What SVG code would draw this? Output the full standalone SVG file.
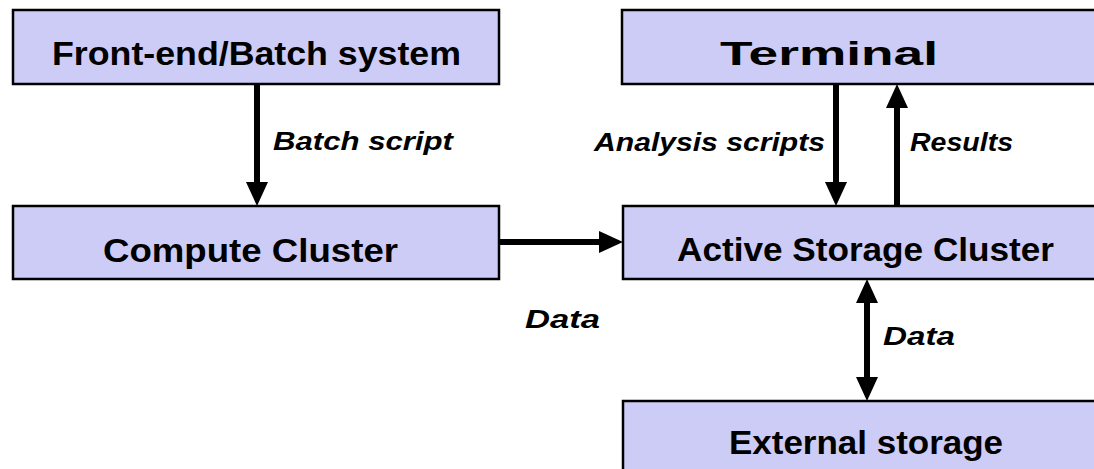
<svg xmlns="http://www.w3.org/2000/svg" width="1094" height="469" viewBox="0 0 1094 469">
  <style>
    .box { fill: #CCCCF6; stroke: #000; stroke-width: 2.5; }
    .nt { font-family: "Liberation Sans", Arial, sans-serif; font-weight: bold; font-size: 33px; fill: #000; }
    .lt { font-family: "Liberation Sans", Arial, sans-serif; font-weight: bold; font-style: italic; font-size: 26px; fill: #000; }
    .conn { stroke: #000; stroke-width: 6; fill: none; }
  </style>
  <defs>
    <marker id="ah" viewBox="0 0 24 22" markerWidth="24" markerHeight="22" refX="0" refY="11" markerUnits="userSpaceOnUse" orient="auto-start-reverse">
      <path d="M0,0 L24,11 L0,22 z" fill="#000"/>
    </marker>
  </defs>
  <rect width="1094" height="469" fill="#fff"/>
  <g id="connectors">
    <line class="conn" x1="500" y1="242" x2="599" y2="242" marker-end="url(#ah)"/>
    <line class="conn" x1="257" y1="84" x2="257" y2="182" marker-end="url(#ah)"/>
    <line class="conn" x1="836" y1="84" x2="836" y2="182" marker-end="url(#ah)"/>
    <line class="conn" x1="897" y1="206" x2="897" y2="108" marker-end="url(#ah)"/>
    <line class="conn" x1="867" y1="303" x2="867" y2="377" marker-start="url(#ah)" marker-end="url(#ah)"/>
    <text class="lt" x="273" y="150" textLength="180" lengthAdjust="spacingAndGlyphs">Batch script</text>
    <text class="lt" x="594" y="151" textLength="231" lengthAdjust="spacingAndGlyphs">Analysis scripts</text>
    <text class="lt" x="910" y="151" textLength="103" lengthAdjust="spacingAndGlyphs">Results</text>
    <text class="lt" x="525" y="328" textLength="75" lengthAdjust="spacingAndGlyphs">Data</text>
    <text class="lt" x="883" y="345" textLength="72" lengthAdjust="spacingAndGlyphs">Data</text>
  </g>
  <g id="frontend">
    <rect class="box" x="13" y="10" width="486" height="74"/>
    <text class="nt" x="52" y="65" textLength="409" lengthAdjust="spacingAndGlyphs">Front-end/Batch system</text>
  </g>
  <g id="terminal">
    <rect class="box" x="622" y="10" width="480" height="74"/>
    <text class="nt" x="720" y="65" textLength="218" lengthAdjust="spacingAndGlyphs">Terminal</text>
  </g>
  <g id="compute">
    <rect class="box" x="13" y="206" width="486" height="73"/>
    <text class="nt" x="103" y="262" textLength="295" lengthAdjust="spacingAndGlyphs">Compute Cluster</text>
  </g>
  <g id="activestorage">
    <rect class="box" x="623" y="206" width="480" height="73"/>
    <text class="nt" x="677" y="261" textLength="377" lengthAdjust="spacingAndGlyphs">Active Storage Cluster</text>
  </g>
  <g id="external">
    <rect class="box" x="623" y="401" width="480" height="80"/>
    <text class="nt" x="729" y="454" textLength="274" lengthAdjust="spacingAndGlyphs">External storage</text>
  </g>
</svg>
